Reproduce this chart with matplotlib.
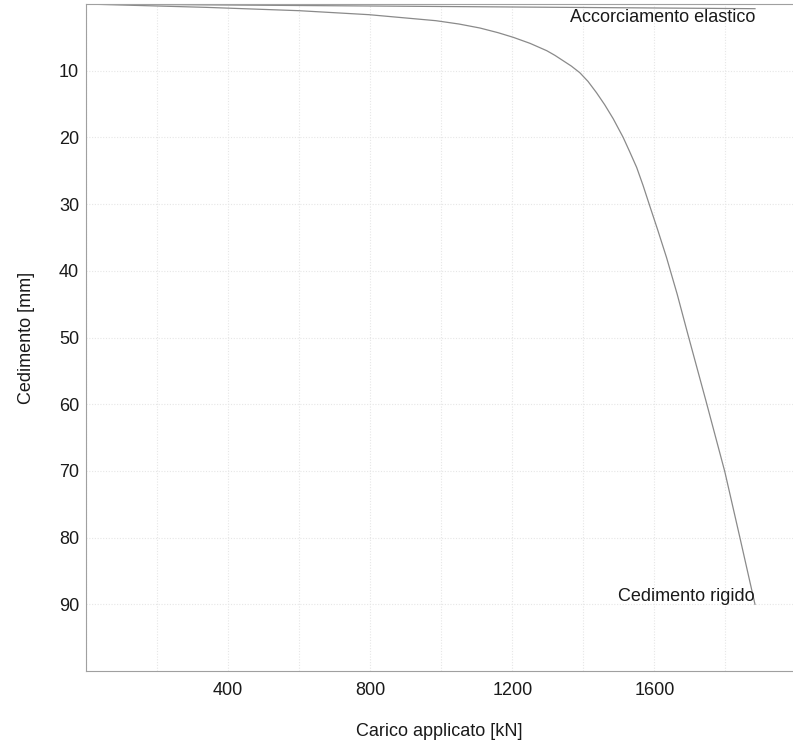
import numpy as np
import matplotlib.pyplot as plt
from matplotlib.ticker import MultipleLocator

plt.rcParams['font.family'] = ['Liberation Sans', 'DejaVu Sans']

# curva carico-cedimento
carico = [0, 338, 600, 797, 985, 1050, 1109, 1160, 1203, 1250, 1297, 1320,
          1343, 1366, 1390, 1413, 1437, 1460, 1484, 1512, 1530, 1550, 1568,
          1587, 1610, 1634, 1664, 1694, 1745, 1798, 1841, 1883]
cedimento = [0, 0.5, 1.0, 1.6, 2.5, 3.0, 3.6, 4.3, 5.0, 5.9, 7.0, 7.7,
             8.5, 9.3, 10.3, 11.6, 13.3, 15.1, 17.2, 20.0, 22.1, 24.5, 27.2,
             30.3, 34.0, 38.0, 43.5, 49.5, 59.5, 70.1, 80.1, 90.0]

# accorciamento elastico
carico_el = [0, 1883]
cedimento_el = [0, 0.7]

x_ticks = [400, 800, 1200, 1600]
y_ticks = [10, 20, 30, 40, 50, 60, 70, 80, 90]

fig = plt.figure(figsize=(7.93, 7.44), dpi=100)
ax = fig.add_axes([0.1084, 0.0981, 0.8916, 0.8965])

ax.plot(carico, cedimento, color='#8a8a8a', lw=0.9, solid_joinstyle='round')
ax.plot(carico_el, cedimento_el, color='#8a8a8a', lw=0.9)

ax.set_xlim(0, 1990)
ax.set_ylim(100, 0)
ax.set_xticks(x_ticks)
ax.set_yticks(y_ticks)
ax.xaxis.set_minor_locator(MultipleLocator(200))
ax.tick_params(which='both', length=0, labelsize=13, colors='#1a1a1a')
ax.tick_params(axis='x', pad=8)
ax.tick_params(axis='y', pad=5)
ax.grid(True, which='both', ls=(0, (1, 1.5)), color='#e6e6e6', lw=0.8)

for s in ['left', 'bottom', 'top']:
    ax.spines[s].set_color('#a0a0a0')
ax.spines['right'].set_visible(False)

ax.text(1883, 2.0, 'Accorciamento elastico', ha='right', va='center',
        fontsize=13, color='#1a1a1a')
ax.text(1883, 88.8, 'Cedimento rigido', ha='right', va='center',
        fontsize=13, color='#1a1a1a')

ax.set_xlabel('Carico applicato [kN]', fontsize=13, color='#1a1a1a', labelpad=17)
ax.set_ylabel('Cedimento [mm]', fontsize=13, color='#1a1a1a', labelpad=17)

fig.savefig('out.png', dpi=100)
